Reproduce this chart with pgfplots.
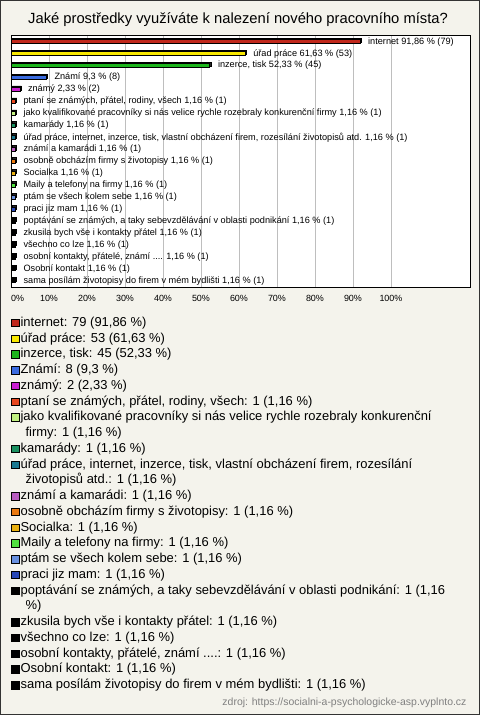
\documentclass[border=0pt]{standalone}
\usepackage{pgfplots}
\pgfplotsset{compat=1.18}
\usepackage{fontspec}
\setmainfont{Liberation Sans}
\definecolor{bgc}{HTML}{F4F3EC}
\definecolor{gridc}{HTML}{BEBEBE}
\definecolor{c1}{HTML}{C1281C}
\definecolor{c2}{HTML}{F8E800}
\definecolor{c3}{HTML}{1CB51C}
\definecolor{c4}{HTML}{3A6BE0}
\definecolor{c5}{HTML}{C81ED0}
\definecolor{c6}{HTML}{E6461E}
\definecolor{c7}{HTML}{C0F080}
\definecolor{c8}{HTML}{1A9060}
\definecolor{c9}{HTML}{1A7890}
\definecolor{c10}{HTML}{B85CC0}
\definecolor{c11}{HTML}{E87810}
\definecolor{c12}{HTML}{E8B010}
\definecolor{c13}{HTML}{50E040}
\definecolor{c14}{HTML}{6890E0}
\definecolor{c15}{HTML}{2848B8}
\definecolor{c16}{HTML}{000000}
\definecolor{srcc}{HTML}{808080}
\pgfplotsset{
  barst/.style={xbar, bar width=4.2bp, bar shift=0pt, fill=#1, draw=black, line width=0.7bp,
    nodes near coords, point meta=explicit symbolic,
    every node near coord/.append style={anchor=west, xshift=4.5bp, font=\fontsize{9.2}{10}\selectfont, text=black},
    legend image code/.code={\draw[fill=#1, draw=black, line width=0.6bp] (0bp,-5bp) rectangle (7.5bp,2.5bp);}},
}
\begin{document}
\begin{tikzpicture}
\useasboundingbox (0,0) rectangle (480bp,-715bp);
\draw[fill=bgc, draw=black!80, line width=1bp] (0.5bp,-0.5bp) rectangle (479.5bp,-714.5bp);
\node[font=\fontsize{14.8}{18}\selectfont] at (238bp,-20bp) {Jaké prostředky využíváte k nalezení nového pracovního místa?};
\node[anchor=east, text=srcc, font=\fontsize{10.5}{12}\selectfont] at (470bp,-703bp) {zdroj: https://socialni-a-psychologicke-asp.vyplnto.cz};
\begin{axis}[
  at={(11bp,-287bp)}, anchor=south west,
  scale only axis, width=459bp, height=252bp,
  xmin=0, xmax=120.8, ymin=-0.56, ymax=20.53, y dir=reverse,
  axis background/.style={fill=white},
  axis line style={black, line width=0.8bp},
  xtick={0,10,...,100},
  xticklabels={\hspace*{13bp}0\%,10\%,20\%,30\%,40\%,50\%,60\%,70\%,80\%,90\%,100\%},
  xticklabel style={font=\fontsize{9}{10}\selectfont, yshift=-5bp},
  ytick=\empty,
  major tick length=0pt,
  xmajorgrids, grid style={gridc, line width=0.8bp},
  clip=false,
  legend cell align=left,
  legend style={at={(0,-0.1063)}, anchor=north west, draw=none, fill=none,
    font=\fontsize{13}{15.75}\selectfont, inner sep=0pt, outer sep=0pt, row sep=0pt,
    column sep=1.5bp,
    nodes={inner sep=0pt, text height=12.5bp, text depth=3.25bp}},
]
% 3D shadow of the bars
\addplot[xbar, bar width=4.2bp, bar shift=0pt, fill=black!85, draw=black, line width=0.7bp, xshift=1.4bp, yshift=1.4bp, forget plot] coordinates {
(91.86,0) (61.63,1) (52.33,2) (9.3,3) (2.33,4) (1.16,5) (1.16,6) (1.16,7) (1.16,8) (1.16,9) (1.16,10)
(1.16,11) (1.16,12) (1.16,13) (1.16,14) (1.16,15) (1.16,16) (1.16,17) (1.16,18) (1.16,19) (1.16,20)};
\addplot[barst=c1] coordinates {(91.86,0) [internet 91,86 \% (79)]};
\addlegendentry{internet: 79 (91,86 \%)}
\addplot[barst=c2] coordinates {(61.63,1) [úřad práce 61,63 \% (53)]};
\addlegendentry{úřad práce: 53 (61,63 \%)}
\addplot[barst=c3] coordinates {(52.33,2) [inzerce, tisk 52,33 \% (45)]};
\addlegendentry{inzerce, tisk: 45 (52,33 \%)}
\addplot[barst=c4] coordinates {(9.3,3) [Známí 9,3 \% (8)]};
\addlegendentry{Známí: 8 (9,3 \%)}
\addplot[barst=c5] coordinates {(2.33,4) [známý 2,33 \% (2)]};
\addlegendentry{známý: 2 (2,33 \%)}
\addplot[barst=c6] coordinates {(1.16,5) [ptaní se známých, přátel, rodiny, všech 1,16 \% (1)]};
\addlegendentry{ptaní se známých, přátel, rodiny, všech: 1 (1,16 \%)}
\addplot[barst=c7] coordinates {(1.16,6) [jako kvalifikované pracovníky si nás velice rychle rozebraly konkurenční firmy 1,16 \% (1)]};
\addlegendentry{jako kvalifikované pracovníky si nás velice rychle rozebraly konkurenční}
\addlegendimage{empty legend}
\addlegendentry{\hspace*{5bp}firmy: 1 (1,16 \%)}
\addplot[barst=c8] coordinates {(1.16,7) [kamarády 1,16 \% (1)]};
\addlegendentry{kamarády: 1 (1,16 \%)}
\addplot[barst=c9] coordinates {(1.16,8) [úřad práce, internet, inzerce, tisk, vlastní obcházení firem, rozesílání životopisů atd. 1,16 \% (1)]};
\addlegendentry{úřad práce, internet, inzerce, tisk, vlastní obcházení firem, rozesílání}
\addlegendimage{empty legend}
\addlegendentry{\hspace*{5bp}životopisů atd.: 1 (1,16 \%)}
\addplot[barst=c10] coordinates {(1.16,9) [známí a kamarádi 1,16 \% (1)]};
\addlegendentry{známí a kamarádi: 1 (1,16 \%)}
\addplot[barst=c11] coordinates {(1.16,10) [osobně obcházím firmy s životopisy 1,16 \% (1)]};
\addlegendentry{osobně obcházím firmy s životopisy: 1 (1,16 \%)}
\addplot[barst=c12] coordinates {(1.16,11) [Socialka 1,16 \% (1)]};
\addlegendentry{Socialka: 1 (1,16 \%)}
\addplot[barst=c13] coordinates {(1.16,12) [Maily a telefony na firmy 1,16 \% (1)]};
\addlegendentry{Maily a telefony na firmy: 1 (1,16 \%)}
\addplot[barst=c14] coordinates {(1.16,13) [ptám se všech kolem sebe 1,16 \% (1)]};
\addlegendentry{ptám se všech kolem sebe: 1 (1,16 \%)}
\addplot[barst=c15] coordinates {(1.16,14) [praci jiz mam 1,16 \% (1)]};
\addlegendentry{praci jiz mam: 1 (1,16 \%)}
\addplot[barst=c16] coordinates {(1.16,15) [poptávání se známých, a taky sebevzdělávání v oblasti podnikání 1,16 \% (1)]};
\addlegendentry{poptávání se známých, a taky sebevzdělávání v oblasti podnikání: 1 (1,16}
\addlegendimage{empty legend}
\addlegendentry{\hspace*{5bp}\%)}
\addplot[barst=c16] coordinates {(1.16,16) [zkusila bych vše i kontakty přátel 1,16 \% (1)]};
\addlegendentry{zkusila bych vše i kontakty přátel: 1 (1,16 \%)}
\addplot[barst=c16] coordinates {(1.16,17) [všechno co lze 1,16 \% (1)]};
\addlegendentry{všechno co lze: 1 (1,16 \%)}
\addplot[barst=c16] coordinates {(1.16,18) [osobní kontakty, přátelé, známí .... 1,16 \% (1)]};
\addlegendentry{osobní kontakty, přátelé, známí ....: 1 (1,16 \%)}
\addplot[barst=c16] coordinates {(1.16,19) [Osobní kontakt 1,16 \% (1)]};
\addlegendentry{Osobní kontakt: 1 (1,16 \%)}
\addplot[barst=c16] coordinates {(1.16,20) [sama posílám životopisy do firem v mém bydlišti 1,16 \% (1)]};
\addlegendentry{sama posílám životopisy do firem v mém bydlišti: 1 (1,16 \%)}
\end{axis}
\end{tikzpicture}
\end{document}
